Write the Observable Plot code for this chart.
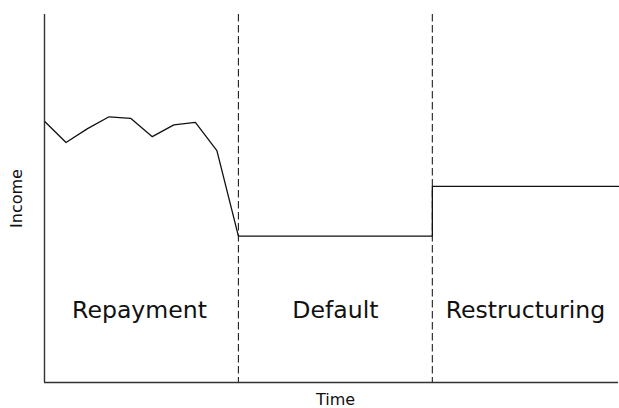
<!DOCTYPE html>
<html>
<head>
<meta charset="utf-8">
<script src="https://cdn.jsdelivr.net/npm/d3@7"></script>
<script src="https://cdn.jsdelivr.net/npm/@observablehq/plot@0.6"></script>
<style>
  html, body { margin: 0; padding: 0; background: #fff; }
  #chart svg { display: block; }
</style>
</head>
<body>
<div id="chart"></div>
<script>
// Data
const time   = [0, 0.111, 0.222, 0.333, 0.444, 0.556, 0.667, 0.778, 0.889, 1.0, 2.0, 2.0, 2.96];
const income = [7.10, 6.52, 6.90, 7.22, 7.18, 6.68, 7.00, 7.07, 6.30, 3.98, 3.98, 5.33, 5.33];
const phaseNames = ["Repayment", "Default", "Restructuring"];
const phaseCenters = [0.49, 1.5, 2.48];
const boundaries = [1, 2];
const labelLevel = 1.96;

const series = time.map((t, i) => ({t, v: income[i]}));
const phases = phaseNames.map((name, i) => ({name, x: phaseCenters[i]}));

const font = "DejaVu Sans, sans-serif";

const chart = Plot.plot({
  width: 619,
  height: 408,
  marginLeft: 44,
  marginTop: 14,
  marginBottom: 26,
  marginRight: 1,
  style: {fontFamily: font, background: "#fff"},
  x: {domain: [0, 2.96], axis: null},
  y: {domain: [0, 10], axis: null},
  marks: [
    Plot.ruleX(boundaries, {stroke: "#222", strokeWidth: 1.1, strokeDasharray: "7.5,3.5"}),
    Plot.line(series, {x: "t", y: "v", stroke: "#111", strokeWidth: 1.3}),
    Plot.text(phases, {x: "x", y: () => labelLevel, text: "name", fontSize: 23.6, fill: "#111", lineAnchor: "middle"}),
    Plot.ruleX([0], {stroke: "#333", strokeWidth: 1.4}),
    Plot.ruleY([0], {stroke: "#333", strokeWidth: 1.4}),
    Plot.text(["Time"], {frameAnchor: "bottom", textAnchor: "middle", dx: 4, dy: 17, fontSize: 16, fill: "#111", lineAnchor: "middle"}),
    Plot.text(["Income"], {frameAnchor: "left", textAnchor: "middle", dx: -28, dy: 0, rotate: -90, fontSize: 16, fill: "#111", lineAnchor: "middle"})
  ]
});
document.getElementById("chart").appendChild(chart);
</script>
</body>
</html>
